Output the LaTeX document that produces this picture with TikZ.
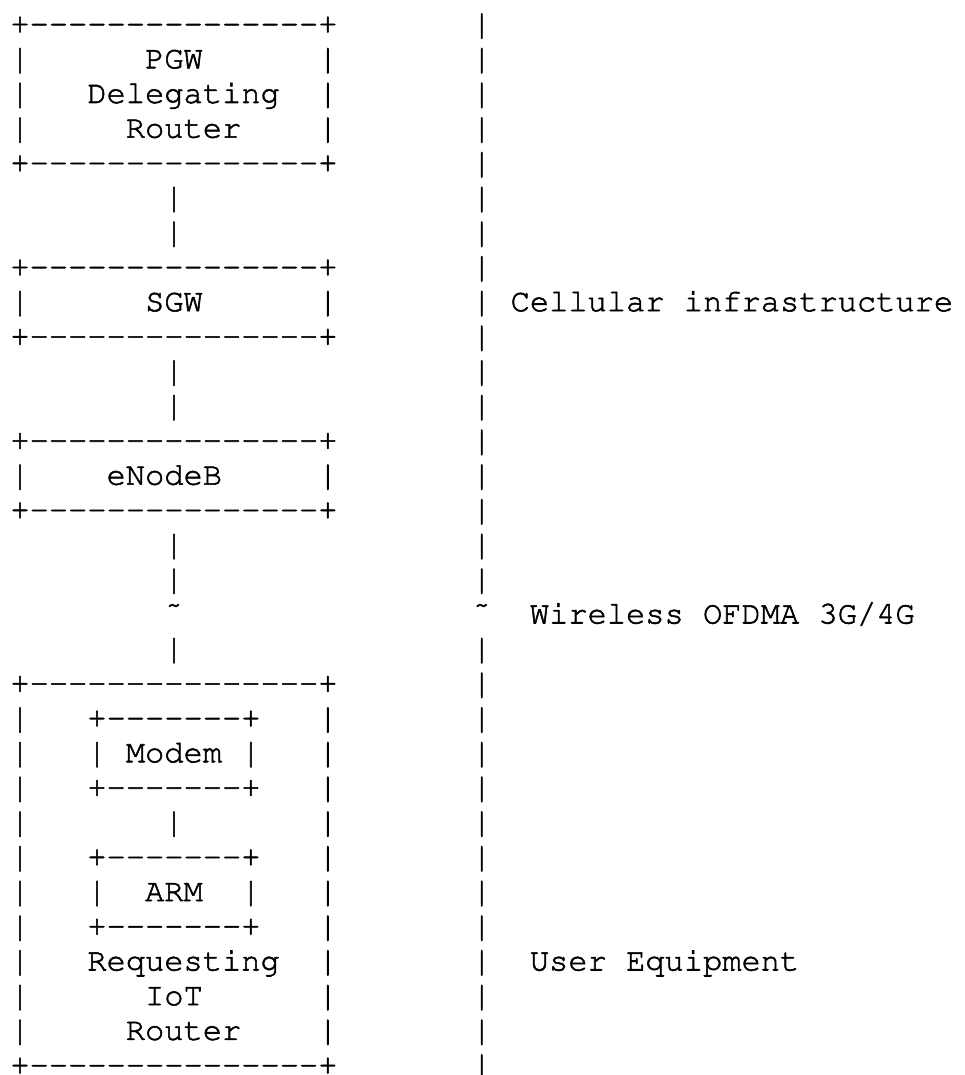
\documentclass[tikz,border=0pt]{standalone}
\usepackage[T1]{fontenc}
\usepackage{graphicx}
\newcommand\cour{\fontencoding{T1}\fontfamily{pcr}\fontseries{m}\fontshape{n}\fontsize{32.07}{38}\selectfont}
% 15 and 7 hyphens, kept apart so that no dash ligature forms
\newcommand\dfif{-{}-{}-{}-{}-{}-{}-{}-{}-{}-{}-{}-{}-{}-{}-}
\newcommand\dsev{-{}-{}-{}-{}-{}-{}-}
\newlength\barht \newlength\bardp
% a taller bar, as in the reference, whose box still stays within one text row
\newcommand\pipe{\raisebox{-9.65pt}{\resizebox{\width}{34.5pt}{\raisebox{\bardp}{|}}}}
\tikzset{ch/.style={anchor=base west, inner sep=0pt, outer sep=0pt,
  font={\cour\special{pdf:literal direct 2 Tr 0.55 w}}, text=black}}
% \putc{col}{row}{text}
\newcommand\putc[3]{\node[ch] (t#2-#1) at ({10.4+19.24*#1},{33.6+34.70*#2}) {#3};}
\newcommand\bord[1]{\putc{0}{#1}{+\dfif+}}
\newcommand\side[1]{\putc{0}{#1}{\pipe}\putc{16}{#1}{\pipe}}
\newcommand\inbord[1]{\side{#1}\putc{4}{#1}{+\dsev+}}
\begin{document}
\settoheight\barht{\cour|}\settodepth\bardp{\cour|}%
\begin{tikzpicture}[x=1pt,y=-1pt]
\useasboundingbox (0,0) rectangle (964,1075);
\fill[white] (0,0) rectangle (964,1075);
\clip (0,0) rectangle (964,1075);
% right-hand divider
\foreach \r in {0,...,16,18,19,...,30} {\putc{24}{\r}{\pipe}}
\putc{24}{17}{\~{}}
% PGW
\bord{0}
\side{1}\putc{7}{1}{PGW}
\side{2}\putc{4}{2}{Delegating}
\side{3}\putc{6}{3}{Router}
\bord{4}
\putc{8}{5}{\pipe}\putc{8}{6}{\pipe}
% SGW
\bord{7}
\side{8}\putc{7}{8}{SGW}
\bord{9}
\putc{8}{10}{\pipe}\putc{8}{11}{\pipe}
% eNodeB
\bord{12}
\side{13}\putc{5}{13}{eNodeB}
\bord{14}
\putc{8}{15}{\pipe}\putc{8}{16}{\pipe}
\putc{8}{17}{\~{}}
\putc{8}{18}{\pipe}
% UE
\bord{19}
\inbord{20}
\side{21}\putc{4}{21}{\pipe}\putc{6}{21}{Modem}\putc{12}{21}{\pipe}
\inbord{22}
\side{23}\putc{8}{23}{\pipe}
\inbord{24}
\side{25}\putc{4}{25}{\pipe}\putc{7}{25}{ARM}\putc{12}{25}{\pipe}
\inbord{26}
\side{27}\putc{4}{27}{Requesting}
\side{28}\putc{7}{28}{IoT}
\side{29}\putc{6}{29}{Router}
\bord{30}
% labels
\putc{26}{8}{Cellular}\putc{35}{8}{infrastructure}
\putc{27}{17}{Wireless}\putc{36}{17}{OFDMA}\putc{42}{17}{3G/4G}
\putc{27}{27}{User}\putc{32}{27}{Equipment}
\end{tikzpicture}
\end{document}
